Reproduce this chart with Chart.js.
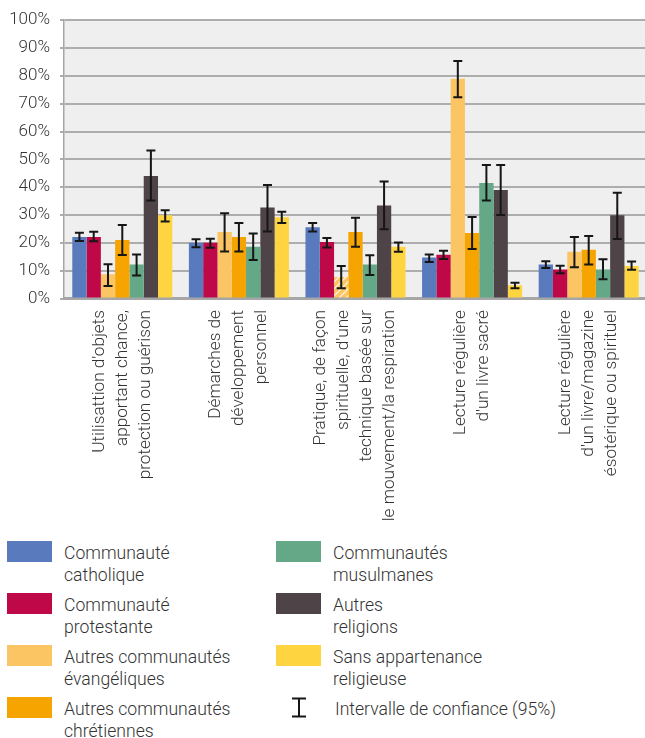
<!DOCTYPE html>
<html>
<head>
<meta charset="utf-8">
<script src="https://cdn.jsdelivr.net/npm/chart.js@4.4.1/dist/chart.umd.min.js"></script>
<style>
  html, body { margin: 0; padding: 0; background: #fff; overflow: hidden; }
  body { width: 645px; height: 738px; position: relative; font-family: Roboto, 'Open Sans', sans-serif; }
  #wrap { position: absolute; left: 0; top: 0; width: 650px; height: 530px; }
  .leg { position: absolute; font-weight: 300; font-size: 17.6px; line-height: 22px; color: #333; }
  .leg .sw { position: absolute; left: 0; top: 0; width: 45px; height: 21px; }
  .leg .tx { position: absolute; left: 57px; top: 1px; white-space: nowrap; }
</style>
</head>
<body>
<div id="wrap"><canvas id="chart" width="650" height="530"></canvas></div>
<div id="legend"></div>
<script>
// Pratiques religieuses / spirituelles par appartenance (en %)

var categories = [
  ["Utilisattion d'objets", 'apportant chance,', 'protection ou guérison'],
  ['Démarches de', 'développement', 'personnel'],
  ['Pratique, de façon', "spirituelle, d'une", 'technique basée sur', 'le mouvement/la respiration'],
  ['Lecture régulière', "d'un livre sacré"],
  ['Lecture régulière', "d'un livre/magazine", 'ésotérique ou spirituel']
];

var yTicks = [0, 10, 20, 30, 40, 50, 60, 70, 80, 90, 100];

var catholique      = [22.1, 20.0, 25.6, 14.7, 12.2];
var catholiqueLow   = [20.7, 18.4, 24.1, 13.1, 11.0];
var catholiqueHigh  = [23.6, 21.3, 27.1, 15.8, 13.4];

var protestante     = [22.1, 20.0, 20.3, 15.7, 10.4];
var protestanteLow  = [20.6, 18.2, 18.3, 14.2, 9.1];
var protestanteHigh = [24.0, 21.5, 21.7, 17.2, 11.8];

var evangeliques     = [8.7, 23.9, 7.7, 79.0, 16.8];
var evangeliquesLow  = [4.5, 16.9, 3.7, 72.3, 11.2];
var evangeliquesHigh = [12.3, 30.6, 11.7, 85.3, 22.1];
var evangeliquesHachure = [false, false, true, false, false];

var chretiennes     = [21.0, 22.1, 23.9, 23.5, 17.5];
var chretiennesLow  = [15.6, 16.9, 18.6, 17.8, 12.2];
var chretiennesHigh = [26.4, 27.1, 29.0, 29.3, 22.5];

var musulmanes     = [12.2, 18.6, 12.2, 41.5, 10.4];
var musulmanesLow  = [8.3, 13.8, 8.4, 35.2, 6.9];
var musulmanesHigh = [15.8, 23.4, 15.5, 48.0, 14.1];

var autresReligions     = [44.0, 32.7, 33.4, 39.0, 29.9];
var autresReligionsLow  = [35.2, 24.1, 24.9, 30.0, 21.4];
var autresReligionsHigh = [53.2, 40.8, 42.0, 48.0, 38.0];

var sansAppartenance     = [29.9, 29.2, 18.6, 4.8, 11.7];
var sansAppartenanceLow  = [27.7, 27.1, 16.8, 3.7, 10.3];
var sansAppartenanceHigh = [31.7, 31.2, 20.1, 5.7, 13.3];

var SERIES = [
  { label: ['Communauté', 'catholique'], data: catholique, low: catholiqueLow, high: catholiqueHigh, color: '#5a7abe' },
  { label: ['Communauté', 'protestante'], data: protestante, low: protestanteLow, high: protestanteHigh, color: '#be0848' },
  { label: ['Autres communautés', 'évangéliques'], data: evangeliques, low: evangeliquesLow, high: evangeliquesHigh, color: '#fbc563', hatch: evangeliquesHachure },
  { label: ['Autres communautés', 'chrétiennes'], data: chretiennes, low: chretiennesLow, high: chretiennesHigh, color: '#f5a400' },
  { label: ['Communautés', 'musulmanes'], data: musulmanes, low: musulmanesLow, high: musulmanesHigh, color: '#64a887' },
  { label: ['Autres', 'religions'], data: autresReligions, low: autresReligionsLow, high: autresReligionsHigh, color: '#4e4347' },
  { label: ['Sans appartenance', 'religieuse'], data: sansAppartenance, low: sansAppartenanceLow, high: sansAppartenanceHigh, color: '#fed440' }
];

function makeHatch(base) {
  var c = document.createElement('canvas');
  c.width = 7; c.height = 7;
  var g = c.getContext('2d');
  g.fillStyle = base;
  g.fillRect(0, 0, 7, 7);
  g.strokeStyle = 'rgba(255,255,255,0.9)';
  g.lineWidth = 1.2;
  g.beginPath();
  g.moveTo(-1, 8); g.lineTo(8, -1);
  g.moveTo(-1, 1); g.lineTo(1, -1);
  g.moveTo(6, 8); g.lineTo(8, 6);
  g.stroke();
  return g.createPattern(c, 'repeat');
}

var plotBackground = {
  id: 'plotBackground',
  beforeDraw: function(chart) {
    var a = chart.chartArea, ctx = chart.ctx;
    ctx.save();
    ctx.fillStyle = '#efefef';
    ctx.fillRect(a.left, a.top, a.right - a.left, a.bottom - a.top);
    ctx.restore();
  }
};

var errorBars = {
  id: 'errorBars',
  afterDatasetsDraw: function(chart) {
    var ctx = chart.ctx, y = chart.scales.y;
    ctx.save();
    ctx.strokeStyle = '#161616';
    ctx.lineWidth = 2;
    SERIES.forEach(function(s, i) {
      var meta = chart.getDatasetMeta(i);
      meta.data.forEach(function(bar, j) {
        var y1 = y.getPixelForValue(s.low[j]);
        var y2 = y.getPixelForValue(s.high[j]);
        ctx.beginPath();
        ctx.moveTo(bar.x, y1); ctx.lineTo(bar.x, y2);
        ctx.moveTo(bar.x - 4.5, y1); ctx.lineTo(bar.x + 4.5, y1);
        ctx.moveTo(bar.x - 4.5, y2); ctx.lineTo(bar.x + 4.5, y2);
        ctx.stroke();
      });
    });
    ctx.restore();
  }
};

// category labels: rotated, each block centred on its group
var categoryLabels = {
  id: 'categoryLabels',
  afterDraw: function(chart) {
    var ctx = chart.ctx, xs = chart.scales.x;
    ctx.save();
    ctx.font = '300 17.2px Roboto, sans-serif';
    ctx.fillStyle = '#333';
    ctx.textAlign = 'right';
    ctx.textBaseline = 'middle';
    chart.data.labels.forEach(function(lines, i) {
      var px = xs.getPixelForValue(i);
      ctx.save();
      ctx.translate(px, xs.top + 11.5);
      ctx.rotate(-Math.PI / 2);
      for (var k = 0; k < lines.length; k++) {
        ctx.fillText(lines[k], 0, (k - (lines.length - 1) / 2) * 23);
      }
      ctx.restore();
    });
    ctx.restore();
  }
};

var datasets = SERIES.map(function(s) {
  var pattern = s.hatch ? makeHatch(s.color) : null;
  return {
    label: s.label.join(' '),
    data: s.data,
    backgroundColor: function(c) {
      return (s.hatch && s.hatch[c.dataIndex]) ? pattern : s.color;
    },
    borderWidth: 0,
    categoryPercentage: 0.858,
    barPercentage: 1.0
  };
});

new Chart(document.getElementById('chart'), {
  type: 'bar',
  data: { labels: categories, datasets: datasets },
  options: {
    responsive: false,
    animation: false,
    layout: { padding: { top: 17.5, right: 3, bottom: 0, left: 0 } },
    plugins: { legend: { display: false }, tooltip: { enabled: false } },
    scales: {
      x: {
        grid: { display: false },
        border: { display: true, color: '#a6a6a6', width: 3 },
        ticks: { display: false },
        afterFit: function(s) { s.height = 231.5; }
      },
      y: {
        min: 0, max: 100,
        afterBuildTicks: function(s) { s.ticks = yTicks.map(function(v) { return { value: v }; }); },
        grid: { color: '#adadad', lineWidth: 2, tickLength: 4, drawTicks: true },
        border: { display: true, color: '#a6a6a6', width: 1.5 },
        ticks: {
          padding: 10,
          color: '#333',
          font: { family: 'Roboto', size: 17, weight: '300' },
          callback: function(v) { return v + '%'; }
        },
        afterFit: function(s) { s.width = 64; }
      }
    }
  },
  plugins: [plotBackground, errorBars, categoryLabels]
});

// HTML legend, two columns
var legend = document.getElementById('legend');
var legendItems = SERIES.map(function(s) { return { lines: s.label, color: s.color }; });
legendItems.push({ lines: ['Intervalle de confiance (95%)'], ci: true });
legendItems.forEach(function(it, i) {
  var col = Math.floor(i / 4), row = i % 4;
  var el = document.createElement('div');
  el.className = 'leg';
  el.style.left = (col === 0 ? 7 : 276) + 'px';
  el.style.top = (541 + row * 52) + 'px';
  var sw;
  if (it.ci) {
    sw = '<svg class="sw" width="45" height="21" viewBox="0 0 45 21"><path d="M16 1.5H30M23 1.5V19.5M16 19.5H30" stroke="#161616" stroke-width="2" fill="none"/></svg>';
  } else {
    sw = '<div class="sw" style="background:' + it.color + '"></div>';
  }
  el.innerHTML = sw + '<div class="tx"' + (it.ci ? ' style="left:59px"' : '') + '>' + it.lines.join('<br>') + '</div>';
  legend.appendChild(el);
});
</script>
</body>
</html>
